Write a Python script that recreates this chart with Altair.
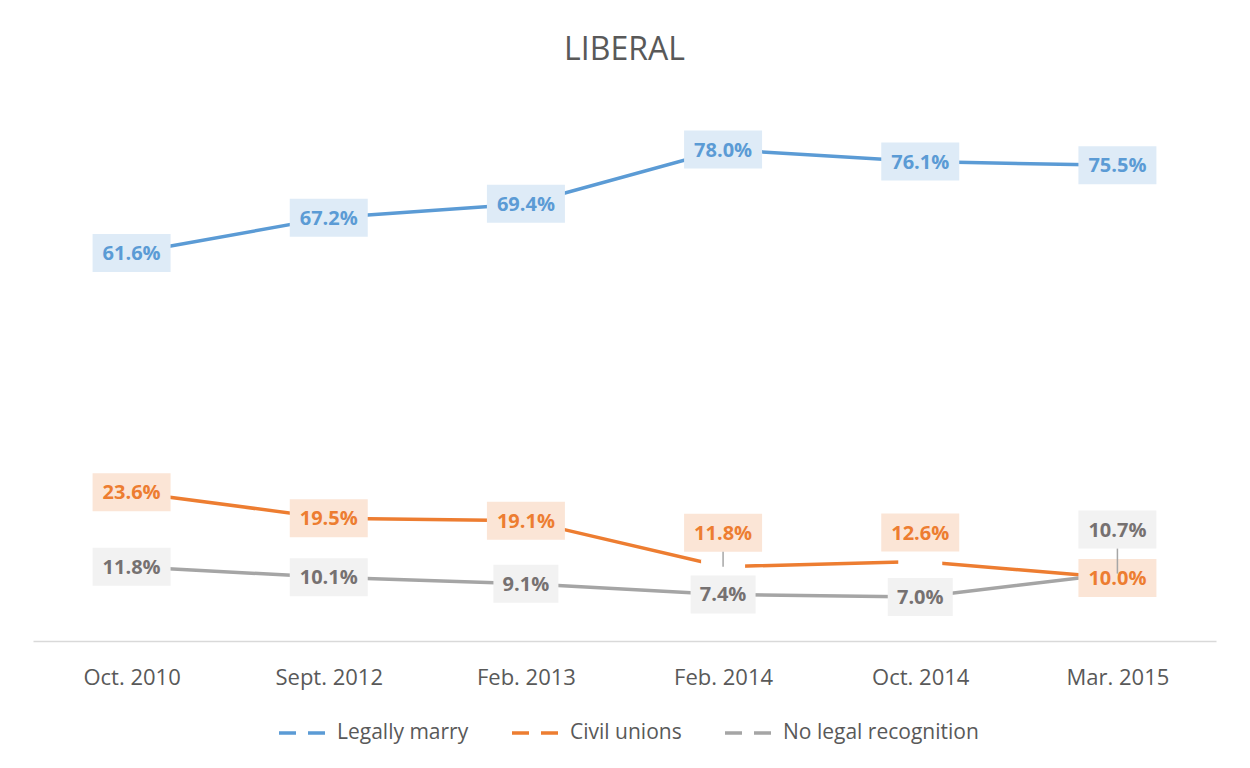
import altair as alt
import pandas as pd

# ---- data ----
DATES = ["Oct. 2010", "Sept. 2012", "Feb. 2013", "Feb. 2014", "Oct. 2014", "Mar. 2015"]
SERIES = ["Legally marry", "Civil unions", "No legal recognition"]
LEGALLY_MARRY = [61.6, 67.2, 69.4, 78.0, 76.1, 75.5]
CIVIL_UNIONS = [23.6, 19.5, 19.1, 11.8, 12.6, 10.0]
NO_RECOGNITION = [11.8, 10.1, 9.1, 7.4, 7.0, 10.7]

# ---- styling ----
LINE_COLORS = ["#5B9BD5", "#ED7D31", "#A5A5A5"]
TEXT_COLORS = {"Legally marry": "#5B9BD5", "Civil unions": "#ED7D31", "No legal recognition": "#767171"}
BOX_COLORS = {"Legally marry": "#DEEBF7", "Civil unions": "#FBE5D6", "No legal recognition": "#F2F2F2"}
FONT = "Open Sans"

W, H = 1183, 567
Y_MAX = 90
PX_PER_UNIT = H / Y_MAX
# labels that Excel moved above their point (pixel shift)
LABEL_SHIFT = {("Civil unions", "Feb. 2014"): -34,
               ("Civil unions", "Oct. 2014"): -29,
               ("No legal recognition", "Mar. 2015"): -44}
BOX_H = 38

rows = []
for s, vals in zip(SERIES, [LEGALLY_MARRY, CIVIL_UNIONS, NO_RECOGNITION]):
    for d, v in zip(DATES, vals):
        shift = LABEL_SHIFT.get((s, d), 0)
        lab_val = v - shift / PX_PER_UNIT
        rows.append({
            "date": d, "series": s, "value": v,
            "label": f"{v:.1f}%",
            "label_val": lab_val,
            "raised": shift != 0,
            "leader_top": lab_val - (BOX_H / 2) / PX_PER_UNIT,
            "tcolor": TEXT_COLORS[s],
            "bcolor": BOX_COLORS[s],
        })
df = pd.DataFrame(rows)

x_enc = alt.X("date:N", sort=DATES,
              scale=alt.Scale(type="point", padding=0.5),
              axis=alt.Axis(title=None, labelAngle=0, ticks=False, grid=False,
                            domainColor="#D9D9D9", domainWidth=1.5,
                            labelFontSize=22, labelColor="#595959", labelFont=FONT,
                            labelPadding=26))
y_scale = alt.Scale(domain=[0, Y_MAX], nice=False, zero=True)

base = alt.Chart(df)

lines = base.mark_line(strokeWidth=3.5).encode(
    x=x_enc,
    y=alt.Y("value:Q", scale=y_scale, axis=None),
    color=alt.Color("series:N", sort=SERIES,
                    scale=alt.Scale(domain=SERIES, range=LINE_COLORS),
                    legend=alt.Legend(title=None, orient="none", direction="horizontal",
                                      legendX=244, legendY=631,
                                      symbolType="stroke", symbolSize=2704,
                                      symbolStrokeWidth=3.5, symbolDash=[17, 12],
                                      labelFont=FONT, labelFontSize=21,
                                      labelColor="#595959", columnPadding=36,
                                      labelOffset=4, padding=0, labelLimit=400)),
    order=alt.Order("series_order:Q"),
).transform_calculate(
    series_order="indexof(['Legally marry','Civil unions','No legal recognition'], datum.series)"
)

# small white breaks Excel leaves in the orange line around the raised labels
gaps = base.transform_filter(
    (alt.datum.series == "Civil unions") & (alt.datum.raised == True)
).mark_point(shape="M-1,-0.3L1,-0.3L1,0.3L-1,0.3Z", size=44 * 44, filled=True,
             color="white", opacity=1).encode(
    x=alt.X("date:N", sort=DATES), y=alt.Y("value:Q", scale=y_scale))


def boxes(cond, width):
    hh = (BOX_H / 2) / (width / 2)
    path = f"M-1,{-hh:.4f}L1,{-hh:.4f}L1,{hh:.4f}L-1,{hh:.4f}Z"
    return base.transform_filter(cond).mark_point(
        shape=path, size=width * width, filled=True, opacity=1, strokeWidth=0
    ).encode(
        x=alt.X("date:N", sort=DATES),
        y=alt.Y("label_val:Q", scale=y_scale),
        color=alt.Color("bcolor:N", scale=None),
    )


box5 = boxes("length(datum.label) > 4", 78)
box4 = boxes("length(datum.label) <= 4", 65)

texts = base.mark_text(font=FONT, fontSize=20, fontWeight="bold", baseline="middle",
                       dy=1).encode(
    x=alt.X("date:N", sort=DATES),
    y=alt.Y("label_val:Q", scale=y_scale),
    text="label:N",
    color=alt.Color("tcolor:N", scale=None),
)

leaders = base.transform_filter(
    (alt.datum.raised == True) & (alt.datum.date != "Oct. 2014")
).mark_rule(color="#A6A6A6", strokeWidth=1.5).encode(
    x=alt.X("date:N", sort=DATES),
    y=alt.Y("value:Q", scale=y_scale),
    y2="leader_top:Q",
)

chart = alt.layer(lines, gaps, box5, box4, texts, leaders).properties(
    width=W, height=H,
    background="white",
    title=alt.TitleParams("LIBERAL", font=FONT, fontSize=32, fontWeight="normal",
                          color="#595959", anchor="middle", offset=7),
    autosize=alt.AutoSizeParams(type="none"),
    padding={"left": 25, "top": 66, "right": 26, "bottom": 119},
).configure_view(strokeWidth=0, stroke=None)

chart.save("out.html", embed_options={"renderer": "svg", "actions": False})
